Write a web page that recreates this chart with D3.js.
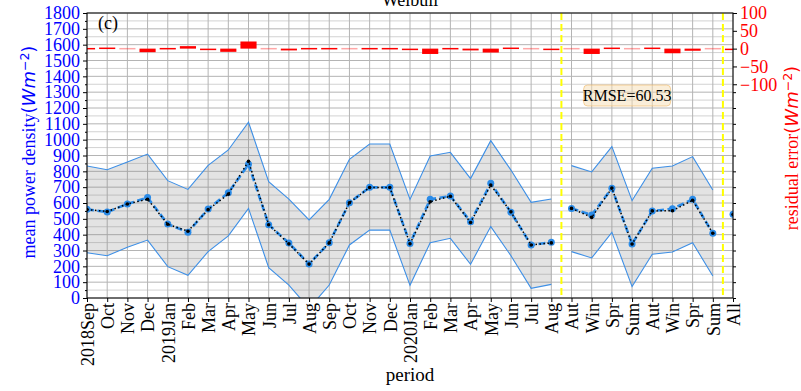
<!DOCTYPE html>
<html>
<head>
<meta charset="utf-8">
<script src="https://cdn.jsdelivr.net/npm/d3@7/dist/d3.min.js"></script>
<style>
  body { margin: 0; background: #fff; }
  text { font-family: "Times New Roman", "Liberation Serif", Times, serif; }
</style>
</head>
<body>
<svg id="chart" width="801" height="391"></svg>
<script>
// x categories: 24 months, 8 seasons, whole period
var periods = ["2018Sep", "Oct", "Nov", "Dec", "2019Jan", "Feb", "Mar", "Apr", "May", "Jun", "Jul", "Aug",
    "Sep", "Oct", "Nov", "Dec", "2020Jan", "Feb", "Mar", "Apr", "May", "Jun", "Jul", "Aug",
    "Aut", "Win", "Spr", "Sum", "Aut", "Win", "Spr", "Sum", "All"];

// weibull estimate (blue dashed)
var predicted = [560, 543, 594, 634, 467, 415, 562, 665, 844, 463, 347, 215,
    349, 602, 699, 699, 345, 623, 644, 482, 724, 541, 335, 352,
    566, 524, 693, 341, 549, 564, 623, 409, 529];

// measured mean (black dotted)
var observed = [559, 546, 594, 624, 466, 422, 558, 656, 864, 463, 342, 214,
    348, 602, 698, 698, 343, 608, 643, 477, 713, 544, 335, 348,
    566, 509, 694, 341, 550, 551, 617, 409, 527];

var upper = [834, 810, 859, 909, 741, 686, 838, 935, 1110, 735, 625, 493,
    623, 876, 973, 973, 623, 897, 920, 754, 994, 808, 604, 625,
    836, 796, 956, 615, 819, 834, 893, 682, null];

var lower = [286, 267, 320, 366, 198, 143, 293, 392, 566, 192, 82, -66,
    82, 335, 429, 429, 80, 349, 377, 213, 451, 267, 61, 86,
    293, 253, 415, 72, 276, 291, 349, 139, null];

// residual error, right axis
var residual = [-1, 3, 0, -10, -1, 7, -4, -9, 20, 0, -5, -1,
    -1, 0, -1, -1, -2, -15, -1, -5, -11, 3, 0, -4,
    0, -15, 1, 0, 1, -13, -6, 0, -2];

// months / seasons / all are drawn as separate pieces
var segments = [[0, 23], [24, 31], [32, 32]];
var separators = [23.5, 31.5];

var leftTicks = d3.range(0, 1801, 100);
var rightTicks = [-100, -50, 0, 50, 100];
var rmseText = "RMSE=60.53";

var serif = '"Times New Roman", "Liberation Serif", Times, serif';
var plot_l = 87, plot_r = 733, plot_t = 13, plot_b = 298;

var svg = d3.select("#chart");

var x = d3.scaleLinear().domain([0, periods.length - 1]).range([plot_l, plot_r]);
var y = d3.scaleLinear().domain([0, 1800]).range([plot_b, plot_t]);
var y2 = d3.scaleLinear().domain([-700, 100]).range([plot_b, plot_t]);

svg.append("clipPath").attr("id", "clip")
    .append("rect")
    .attr("x", plot_l).attr("y", plot_t)
    .attr("width", plot_r - plot_l).attr("height", plot_b - plot_t);

// grid
var grid = svg.append("g");
grid.selectAll(".hg")
    .data(d3.range(0, 1801, 50))
    .enter().append("line")
    .attr("x1", plot_l).attr("x2", plot_r)
    .attr("y1", function (d) { return y(d); })
    .attr("y2", function (d) { return y(d); })
    .style("stroke", function (d) { return d % 100 == 0 ? "#b4b4b4" : "#d2d2d2"; })
    .style("stroke-width", 1);
grid.selectAll(".vg")
    .data(d3.range(periods.length))
    .enter().append("line")
    .attr("x1", function (d) { return x(d); })
    .attr("x2", function (d) { return x(d); })
    .attr("y1", plot_t).attr("y2", plot_b)
    .style("stroke", "#b4b4b4")
    .style("stroke-width", 1);

var body = svg.append("g").attr("clip-path", "url(#clip)");

function pts(arr, seg) {
    var out = [];
    for (var i = seg[0]; i <= seg[1]; i++) {
        if (arr[i] != null) out.push({ i: i, v: arr[i] });
    }
    return out;
}

var line = d3.line()
    .x(function (d) { return x(d.i); })
    .y(function (d) { return y(d.v); });

var area = d3.area()
    .x(function (d) { return x(d.i); })
    .y0(function (d) { return y(d.lo); })
    .y1(function (d) { return y(d.hi); });

segments.forEach(function (seg) {
    var band = [];
    for (var i = seg[0]; i <= seg[1]; i++) {
        if (upper[i] != null) band.push({ i: i, lo: lower[i], hi: upper[i] });
    }
    if (band.length > 1) {
        body.append("path")
            .attr("d", area(band))
            .style("fill", "#808080")
            .style("fill-opacity", 0.22);
        body.append("path")
            .attr("d", line(pts(upper, seg)))
            .style("fill", "none")
            .style("stroke", "#3d8fe6")
            .style("stroke-width", 1.1);
        body.append("path")
            .attr("d", line(pts(lower, seg)))
            .style("fill", "none")
            .style("stroke", "#3d8fe6")
            .style("stroke-width", 1.1);
    }

    var pp = pts(predicted, seg);
    body.append("path")
        .attr("d", line(pp))
        .style("fill", "none")
        .style("stroke", "#2a8be8")
        .style("stroke-width", 2.6)
        .style("stroke-dasharray", "7,3.5");
    body.selectAll(null)
        .data(pp)
        .enter().append("circle")
        .attr("cx", function (d) { return x(d.i); })
        .attr("cy", function (d) { return y(d.v); })
        .attr("r", 3.5)
        .style("fill", "#2a8be8");

    var op = pts(observed, seg);
    body.append("path")
        .attr("d", line(op))
        .style("fill", "none")
        .style("stroke", "#000")
        .style("stroke-width", 1.5)
        .style("stroke-dasharray", "1.5,2.5");
    body.selectAll(null)
        .data(op)
        .enter().append("circle")
        .attr("cx", function (d) { return x(d.i); })
        .attr("cy", function (d) { return y(d.v); })
        .attr("r", 1.8)
        .style("fill", "#000");
});

// residual bars on the right axis
var bw = (x(1) - x(0)) * 0.8;
body.selectAll(".bar")
    .data(residual)
    .enter().append("rect")
    .attr("x", function (d, i) { return x(i) - bw / 2; })
    .attr("y", function (d) { return Math.min(y2(d), y2(0)) - (Math.abs(d) <= 1 ? 0.7 : 0); })
    .attr("width", bw)
    .attr("height", function (d) { return Math.max(Math.abs(y2(d) - y2(0)), 1.5); })
    .style("fill", "#ff0000")
    .style("opacity", function (d) { return d == 0 ? 0.35 : 1; });

// season / all separators
svg.selectAll(".sep")
    .data(separators)
    .enter().append("line")
    .attr("x1", function (d) { return x(d); })
    .attr("x2", function (d) { return x(d); })
    .attr("y1", plot_t).attr("y2", plot_b)
    .style("stroke", "#ffff00")
    .style("stroke-width", 2)
    .style("stroke-dasharray", "7,4");

// frame
svg.append("rect")
    .attr("x", plot_l).attr("y", plot_t)
    .attr("width", plot_r - plot_l).attr("height", plot_b - plot_t)
    .style("fill", "none")
    .style("stroke", "#000")
    .style("stroke-width", 1);

// left axis
var gl = svg.append("g")
    .attr("transform", "translate(" + plot_l + ",0)")
    .call(d3.axisLeft(y).tickValues(leftTicks).tickSize(4).tickPadding(3).tickFormat(d3.format("d")));
gl.attr("font-family", null).attr("font-size", null);
gl.select(".domain").remove();
gl.selectAll("text").style("font-size", "18px").style("fill", "#0000ff")
    .style("font-family", serif);
svg.append("g")
    .attr("transform", "translate(" + plot_l + ",0)")
    .call(d3.axisLeft(y).tickValues(d3.range(50, 1800, 100)).tickSize(2).tickFormat(""))
    .select(".domain").remove();

// right axis
var gr = svg.append("g")
    .attr("transform", "translate(" + plot_r + ",0)")
    .call(d3.axisRight(y2).tickValues(rightTicks).tickSize(4).tickPadding(3));
gr.attr("font-family", null).attr("font-size", null);
gr.select(".domain").remove();
gr.selectAll("text").style("font-size", "18px").style("fill", "#ff0000")
    .style("font-family", serif);
svg.append("g")
    .attr("transform", "translate(" + plot_r + ",0)")
    .call(d3.axisRight(y).tickValues(d3.range(0, 1301, 100)).tickSize(3).tickFormat(""))
    .select(".domain").remove();

// x axis
var gx = svg.append("g")
    .attr("transform", "translate(0," + plot_b + ")")
    .call(d3.axisBottom(x).tickValues(d3.range(periods.length)).tickSize(4)
        .tickFormat(function (d) { return periods[d]; }));
gx.attr("font-family", null).attr("font-size", null);
gx.select(".domain").remove();
gx.selectAll("text")
    .attr("transform", "rotate(-90)")
    .attr("x", -5).attr("y", 0).attr("dy", "0.35em")
    .style("text-anchor", "end")
    .style("font-size", "18px")
    .style("font-family", serif);

// titles
svg.append("text")
    .attr("x", 410).attr("y", 6)
    .attr("text-anchor", "middle")
    .style("font-size", "18px")
    .text("Weibull");

svg.append("text")
    .attr("x", 98).attr("y", 29)
    .style("font-size", "18px")
    .text("(c)");

svg.append("text")
    .attr("x", 410).attr("y", 381)
    .attr("text-anchor", "middle")
    .style("font-size", "19px")
    .text("period");

function unitLabel(sel, label) {
    sel.append("tspan").style("font-family", serif).text(label);
    sel.append("tspan").style("font-family", "DejaVu Sans").text("(");
    sel.append("tspan").style("font-family", "DejaVu Sans").style("font-style", "italic").text("Wm");
    sel.append("tspan").style("font-family", "DejaVu Sans").style("font-size", "12.5px")
        .attr("dy", "-0.45em").text("\u22122");
    sel.append("tspan").style("font-family", "DejaVu Sans").attr("dy", "0.3em").text(")");
}

var yl = svg.append("text")
    .attr("transform", "translate(35,152) rotate(-90)")
    .attr("text-anchor", "middle")
    .style("font-size", "18px")
    .style("fill", "#0000ff");
unitLabel(yl, "mean power density");

var yr = svg.append("text")
    .attr("transform", "translate(798,148) rotate(-90)")
    .attr("text-anchor", "middle")
    .style("font-size", "18px")
    .style("fill", "#ff0000");
unitLabel(yr, "residual error");

// rmse box
var rb = svg.append("g").attr("transform", "translate(" + x(24.6) + ",85)");
rb.append("rect")
    .attr("width", 87).attr("height", 21)
    .attr("rx", 4)
    .style("fill", "#f5deb3")
    .style("fill-opacity", 0.5)
    .style("stroke", "#f0b25a")
    .style("stroke-opacity", 0.55);
rb.append("text")
    .attr("x", 43.5).attr("y", 15.5)
    .attr("text-anchor", "middle")
    .style("font-size", "16px")
    .text(rmseText);
</script>
</body>
</html>
